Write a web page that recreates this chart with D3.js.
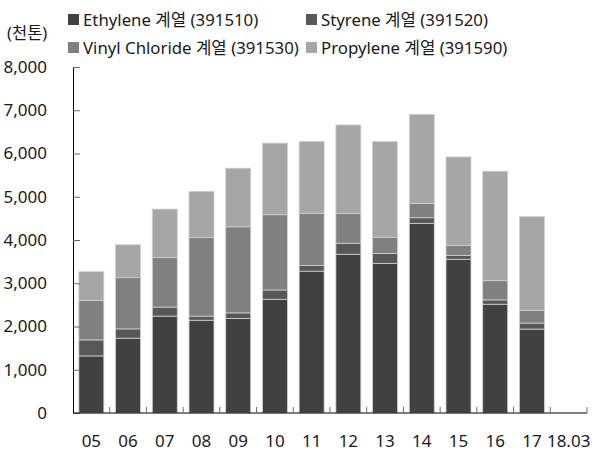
<!DOCTYPE html>
<html lang="ko">
<head>
<meta charset="utf-8">
<script src="https://d3js.org/d3.v7.min.js"></script>
<style>
  body { margin: 0; background: #fff; }
  svg text { font-family: "Noto Sans", "Noto Sans CJK KR", sans-serif; fill: #1a1a1a; }
</style>
</head>
<body>
<div id="chart"></div>
<script>
// Data (천톤)
const years = ["05", "06", "07", "08", "09", "10", "11", "12", "13", "14", "15", "16", "17", "18.03"];
const ethylene  = [1320, 1730, 2240, 2145, 2185, 2630, 3280, 3670, 3460, 4385, 3555, 2515, 1940, null];
const styrene   = [370, 215, 210, 95, 130, 215, 130, 255, 230, 130, 90, 100, 140, null];
const vinyl     = [910, 1185, 1145, 1815, 1990, 1740, 1210, 690, 375, 330, 230, 445, 290, null];
const propylene = [670, 760, 1120, 1070, 1355, 1655, 1660, 2045, 2210, 2060, 2045, 2530, 2170, null];
const seriesNames = ["Ethylene 계열 (391510)", "Styrene 계열 (391520)", "Vinyl Chloride 계열 (391530)", "Propylene 계열 (391590)"];
const yTicks = [0, 1000, 2000, 3000, 4000, 5000, 6000, 7000, 8000];

const colors = ["#414141", "#575757", "#808080", "#a6a6a6"];
const keys = ["eth", "sty", "vin", "pro"];

const table = years.map((y, i) => ({
  year: y,
  eth: ethylene[i] || 0,
  sty: styrene[i] || 0,
  vin: vinyl[i] || 0,
  pro: propylene[i] || 0
}));

const W = 592, H = 451;
const margin = { top: 67, right: 5, bottom: 38, left: 73 };
const width = W - margin.left - margin.right;
const height = H - margin.top - margin.bottom;

const svg = d3.select("#chart").append("svg")
  .attr("width", W)
  .attr("height", H);

const g = svg.append("g")
  .attr("transform", `translate(${margin.left},${margin.top})`);

const x = d3.scaleBand()
  .domain(years)
  .range([0, width])
  .paddingInner(0.32)
  .paddingOuter(0.16);

const y = d3.scaleLinear()
  .domain([0, 8000])
  .range([height, 0]);

const stacked = d3.stack().keys(keys)(table);

// Bars
g.selectAll(".layer")
  .data(stacked)
  .enter()
  .append("g")
  .attr("class", "layer")
  .attr("fill", (d, i) => colors[i])
  .selectAll("rect")
  .data(d => d.filter(p => p[1] - p[0] > 0))
  .enter()
  .append("rect")
  .attr("x", d => x(d.data.year))
  .attr("y", d => y(d[1]))
  .attr("width", x.bandwidth())
  .attr("height", d => y(d[0]) - y(d[1]))
  .attr("stroke", "#d0d0d0")
  .attr("stroke-width", 0.8);

// Y axis
const yAxis = g.append("g")
  .call(d3.axisLeft(y).tickValues(yTicks).tickSize(-7).tickPadding(26)
    .tickFormat(d3.format(",")));
yAxis.select(".domain").attr("stroke", "#000");
yAxis.selectAll(".tick line").attr("stroke", "#6a6a6a");
yAxis.selectAll("text").style("font-size", "17px").attr("fill", "#1a1a1a");

// X axis with ticks between categories
const xAxis = g.append("g")
  .attr("transform", `translate(0,${height})`);
xAxis.append("line")
  .attr("x1", 0).attr("x2", width)
  .attr("stroke", "#000");
xAxis.selectAll(".sep")
  .data(years)
  .enter()
  .append("line")
  .attr("class", "sep")
  .attr("x1", d => x(d) + x.bandwidth() + x.step() * x.paddingInner() / 2)
  .attr("x2", d => x(d) + x.bandwidth() + x.step() * x.paddingInner() / 2)
  .attr("y1", 0).attr("y2", -6)
  .attr("stroke", "#6a6a6a");
xAxis.selectAll(".xl")
  .data(years)
  .enter()
  .append("text")
  .attr("class", "xl")
  .attr("x", d => x(d) + x.bandwidth() / 2)
  .attr("y", 34)
  .attr("text-anchor", "middle")
  .style("font-size", "17px")
  .text(d => d);

// Unit label
svg.append("text")
  .attr("x", 7).attr("y", 39)
  .style("font-size", "16.5px")
  .text("(천톤)");

// Legend
const legendPos = [[68, 20], [306, 20], [68, 48], [306, 48]];
const legend = svg.selectAll(".legend")
  .data(seriesNames)
  .enter()
  .append("g")
  .attr("class", "legend")
  .attr("transform", (d, i) => `translate(${legendPos[i][0]},${legendPos[i][1]})`);
legend.append("rect")
  .attr("x", 0).attr("y", -6)
  .attr("width", 11).attr("height", 11)
  .attr("fill", (d, i) => colors[i]);
legend.append("text")
  .attr("x", 15).attr("y", 6)
  .style("font-size", "16.8px")
  .text(d => d);
</script>
</body>
</html>
